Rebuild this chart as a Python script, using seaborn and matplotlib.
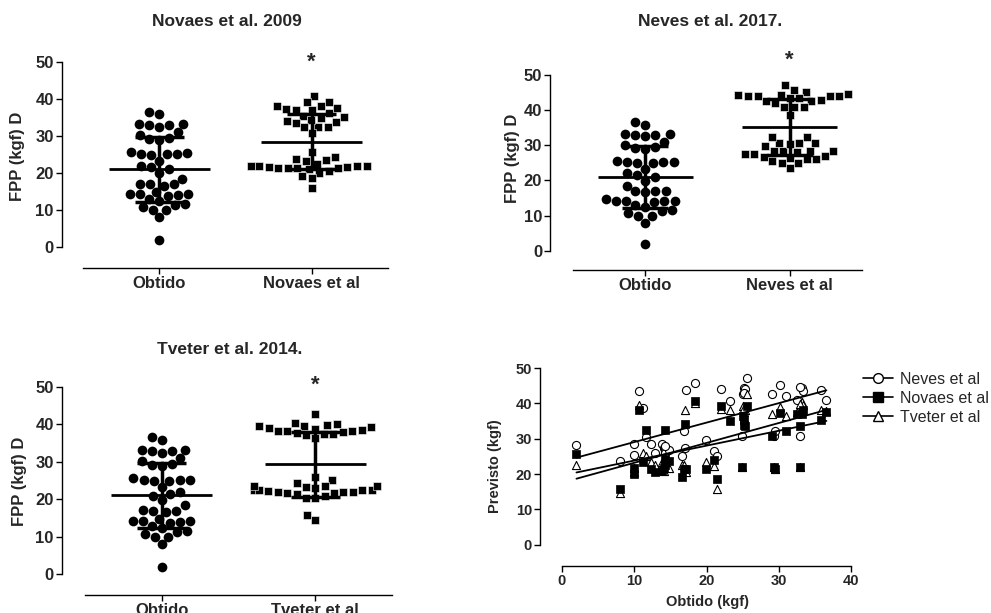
import numpy as np
import pandas as pd
import matplotlib
matplotlib.use("Agg")
import matplotlib.pyplot as plt
from matplotlib.lines import Line2D
import seaborn as sns

# valores por sujeito (kgf): obtido e previstos pelas equacoes
obtido = [2.0, 8.0, 10.0, 10.0, 10.7, 11.2, 11.6, 12.3, 12.9, 13.8,
          14.1, 14.2, 14.2, 14.8, 16.6, 16.9, 17.0, 17.1, 18.4, 19.9,
          21.0, 21.5, 22.0, 23.3, 24.9, 25.0, 25.2, 25.3, 25.6, 29.0,
          29.3, 29.5, 30.2, 31.0, 32.5, 32.9, 33.2, 33.3, 35.9, 36.6,
          14.2, 25.2, 33.0]
neves = [28.3, 23.6, 28.5, 25.5, 43.4, 38.7, 30.5, 28.5, 26.1, 28.5,
         27.4, 27.0, 26.0, 26.7, 25.0, 32.3, 27.4, 43.9, 45.8, 29.7,
         26.4, 25.0, 44.0, 40.8, 30.7, 42.7, 44.3, 44.0, 47.2, 42.7,
         30.7, 32.3, 45.3, 42.0, 41.0, 30.7, 44.3, 43.4, 43.9, 41.0,
         28.0, 43.0, 44.5]
novaes = [25.7, 15.8, 21.8, 20.1, 38.2, 23.3, 32.5, 21.3, 20.5, 21.0,
          21.7, 32.5, 24.2, 23.6, 19.2, 21.4, 34.2, 21.5, 40.8, 21.4,
          23.9, 18.6, 39.2, 34.9, 22.0, 36.3, 35.4, 33.7, 39.3, 30.7,
          22.0, 21.4, 37.3, 32.3, 37.1, 22.0, 37.1, 38.0, 35.2, 37.5,
          22.5, 34.0, 33.5]
tveter = [22.6, 14.6, 21.7, 20.5, 39.6, 26.0, 25.2, 23.5, 22.6, 23.5,
          21.0, 24.5, 23.0, 21.7, 22.5, 22.6, 38.2, 20.5, 40.0, 23.3,
          22.2, 15.8, 38.5, 38.2, 22.0, 39.2, 37.5, 38.0, 42.7, 37.1,
          22.0, 21.5, 39.0, 36.3, 37.5, 22.0, 40.3, 39.5, 38.2, 37.7,
          23.5, 38.8, 39.8]

sns.set_theme(style="ticks")
plt.rcParams["font.family"] = ["Liberation Sans", "DejaVu Sans"]
plt.rcParams["font.weight"] = "bold"

W, H = 991, 613
fig = plt.figure(figsize=(W / 100, H / 100), dpi=100)


def px_rect(l, r, t, b):
    return [l / W, (H - b) / H, (r - l) / W, (b - t) / H]


def style_axis(ax, offset, fs):
    for s in ["top", "right"]:
        ax.spines[s].set_visible(False)
    for s in ["left", "bottom"]:
        ax.spines[s].set_color("black")
        ax.spines[s].set_linewidth(1)
    ax.spines["left"].set_position(("outward", offset))
    ax.spines["left"].set_bounds(0, 50)
    ax.set_yticks([0, 10, 20, 30, 40, 50])
    ax.tick_params(direction="out", length=4, width=1, color="black",
                   labelsize=fs, pad=2)
    ax.set_xlabel("")
    ax.set_ylabel("")


def dot_panel(rect, other, label, ymin, offset, star_y):
    ax = fig.add_axes(rect)
    order = ["Obtido", label]
    df = pd.DataFrame({"grupo": ["Obtido"] * len(obtido) + [label] * len(other),
                       "valor": obtido + other})
    sns.swarmplot(data=df[df.grupo == "Obtido"], x="grupo", y="valor", order=order,
                  color="black", marker="o", size=7, ax=ax)
    sns.swarmplot(data=df[df.grupo == label], x="grupo", y="valor", order=order,
                  color="black", marker="s", size=6.2, edgecolor="white",
                  linewidth=0.4, ax=ax)
    for i, g in enumerate(order):
        v = df.loc[df.grupo == g, "valor"].to_numpy()
        m, sd = v.mean(), v.std(ddof=1)
        ax.hlines(m, i - 0.33, i + 0.33, color="black", lw=2, zorder=5)
        ax.vlines(i, m - sd, m + sd, color="black", lw=2.5, zorder=5)
        ax.hlines([m - sd, m + sd], i - 0.16, i + 0.16, color="black", lw=2.5, zorder=5)
    ax.text(1, star_y, "*", ha="center", va="center", fontsize=16,
            fontweight="bold", clip_on=False)
    ax.set_xlim(-0.5, 1.5)
    ax.set_ylim(ymin, 50)
    style_axis(ax, offset, 12)
    return ax


dot_panel(px_rect(83, 388, 62, 268), novaes, "Novaes et al", -5.7, 15, 50.0)
dot_panel(px_rect(573, 862, 75, 270), neves, "Neves et al", -5.5, 16.3, 54.3)
dot_panel(px_rect(85, 392, 387, 595), tveter, "Tveter et al", -5.5, 16.5, 50.5)

fig.text(227, H - 21, "Novaes et al. 2009", transform=None, ha="center", va="center",
         fontsize=12.5, fontweight="bold")
fig.text(710, H - 21, "Neves et al. 2017.", transform=None, ha="center", va="center",
         fontsize=12.5, fontweight="bold")
fig.text(230, H - 349, "Tveter et al. 2014.", transform=None, ha="center", va="center",
         fontsize=12.5, fontweight="bold")
for x, y in [(18, 156), (512, 158), (20, 481)]:
    fig.text(x, H - y, "FPP (kgf) D", transform=None, rotation=90, ha="center",
             va="center", fontsize=12, fontweight="bold")

# regressao previsto x obtido
ax4 = fig.add_axes(px_rect(562, 851, 368, 566))
sns.scatterplot(x=obtido, y=neves, marker="o", s=34, facecolor="white",
                edgecolor="black", linewidth=0.8, ax=ax4, zorder=3)
sns.scatterplot(x=obtido, y=tveter, marker="^", s=34, facecolor="white",
                edgecolor="black", linewidth=0.8, ax=ax4, zorder=4)
sns.scatterplot(x=obtido, y=novaes, marker="s", s=34, color="black",
                edgecolor="black", linewidth=0.5, ax=ax4, zorder=5)
for yy in [neves, novaes, tveter]:
    sns.regplot(x=obtido, y=yy, scatter=False, ci=None, color="black",
                line_kws={"lw": 1.3, "zorder": 6}, ax=ax4)
ax4.set_xlim(0, 40)
ax4.set_ylim(-6, 50)
ax4.set_xticks([0, 10, 20, 30, 40])
style_axis(ax4, 15.6, 10.5)
fig.text(495, H - 466, "Previsto (kgf)", transform=None, rotation=90, ha="center",
         va="center", fontsize=10.5, fontweight="bold")
fig.text(707, H - 602, "Obtido (kgf)", transform=None, ha="center", va="center",
         fontsize=10.5, fontweight="bold")

handles = [
    Line2D([], [], color="black", lw=1.2, marker="o", markersize=7,
           markerfacecolor="white", markeredgecolor="black"),
    Line2D([], [], color="black", lw=1.2, marker="s", markersize=7,
           markerfacecolor="black", markeredgecolor="black"),
    Line2D([], [], color="black", lw=1.2, marker="^", markersize=7,
           markerfacecolor="white", markeredgecolor="black"),
]
fig.legend(handles, ["Neves et al", "Novaes et al", "Tveter et al"],
           loc="upper left", bbox_to_anchor=(863 / W, (H - 372) / H),
           frameon=False, borderpad=0, borderaxespad=0, handlelength=1.9,
           handletextpad=0.4, labelspacing=0.25,
           prop={"weight": "normal", "size": 11.5})

fig.savefig("out.png", dpi=100)
